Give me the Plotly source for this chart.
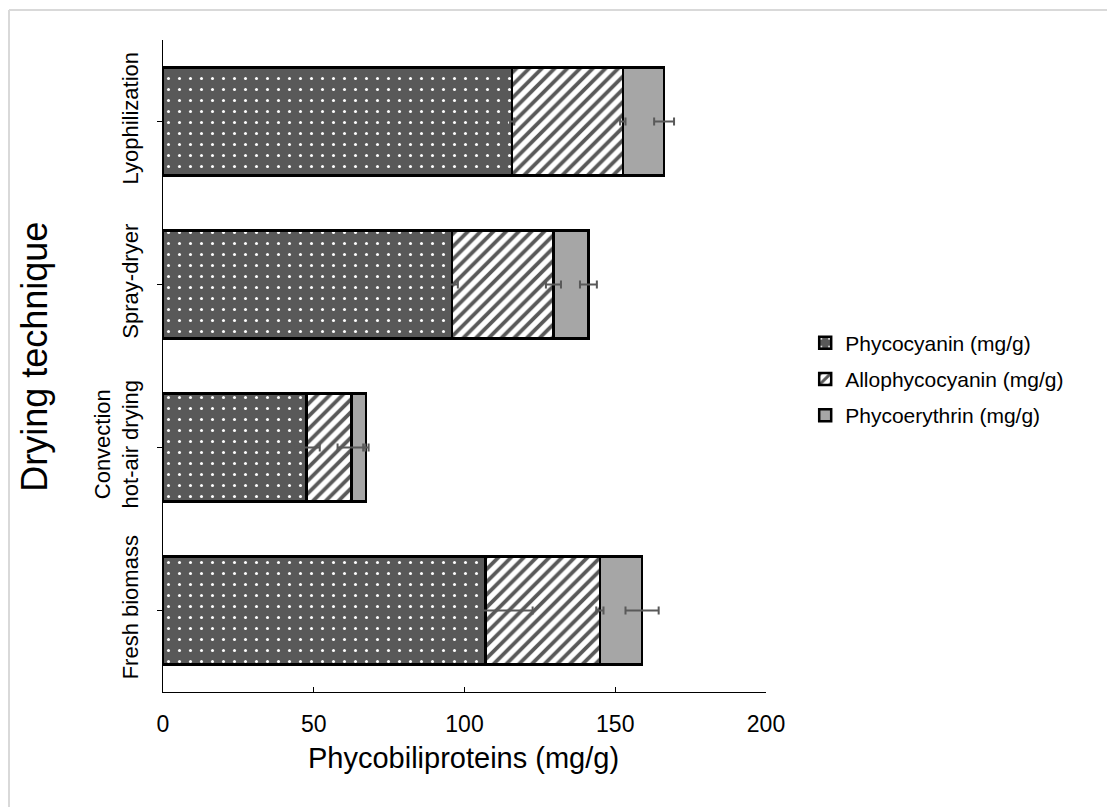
import plotly.graph_objects as go
import numpy as np

categories = ["Fresh biomass", "Convection<br>hot-air drying", "Spray-dryer", "Lyophilization"]
series_names = ["Phycocyanin (mg/g)", "Allophycocyanin (mg/g)", "Phycoerythrin (mg/g)"]
phycocyanin = [107.0, 47.6, 95.8, 115.8]
allophycocyanin = [37.9, 14.9, 33.7, 36.7]
phycoerythrin = [14.0, 4.8, 11.6, 13.7]
err_phycocyanin = [15.6, 4.4, 2.0, 0.7]
err_allophycocyanin = [1.2, 4.6, 2.5, 0.9]
err_phycoerythrin = [5.5, 0.9, 2.8, 3.3]
x_ticks = [0, 50, 100, 150, 200]
x_title = "Phycobiliproteins (mg/g)"
y_title = "Drying technique"

FONT = "Arial, Liberation Sans, sans-serif"
DARK = "#595959"

values = [phycocyanin, allophycocyanin, phycoerythrin]
errors = [err_phycocyanin, err_allophycocyanin, err_phycoerythrin]
patterns = [
    dict(shape=".", bgcolor=DARK, fgcolor="white", size=11, solidity=0.06, fillmode="replace"),
    dict(shape="/", bgcolor="white", fgcolor=DARK, size=9, solidity=0.42, fillmode="replace"),
    dict(shape="", bgcolor="#a6a6a6", fgcolor="#a6a6a6"),
]
fills = [DARK, "white", "#a6a6a6"]

fig = go.Figure()
for i, (name, vals) in enumerate(zip(series_names, values)):
    fig.add_trace(go.Bar(
        x=vals, y=categories, orientation="h", name=name,
        legendgroup=name,
        marker=dict(color=fills[i], pattern=patterns[i], line=dict(color="black", width=2.5)),
    ))

cum = np.cumsum(np.array(values), axis=0)
for i in range(3):
    fig.add_trace(go.Scatter(
        x=list(cum[i]), y=categories, mode="markers",
        marker=dict(size=1, opacity=0), showlegend=False, hoverinfo="skip",
        error_x=dict(type="data", array=errors[i], color=DARK, thickness=2, width=4),
    ))

fig.update_layout(
    barmode="stack", bargap=0.34,
    width=1107, height=799,
    margin=dict(l=155, r=349, t=32, b=115),
    paper_bgcolor="white", plot_bgcolor="white",
    font=dict(family=FONT, color="black", size=21),
    legend=dict(x=1.065, y=0.48, xanchor="left", yanchor="middle",
                font=dict(size=21), traceorder="grouped", tracegroupgap=6),
    xaxis=dict(range=[0, 200], tickvals=x_ticks, ticks="inside", ticklen=5,
               tickcolor="black", showline=True, linecolor="black", linewidth=1,
               showgrid=False, zeroline=False, ticklabelstandoff=11,
               tickfont=dict(size=23)),
    yaxis=dict(type="category", categoryorder="array", categoryarray=categories,
               range=[-0.5, 3.5], ticks="outside", ticklen=5, tickcolor="black",
               showline=True, linecolor="black", linewidth=1, showgrid=False,
               tickangle=-90, ticklabelstandoff=10, tickfont=dict(size=22)),
    yaxis2=dict(overlaying="y", range=[-0.5, 3.5], tickvals=[-0.5, 0.5, 1.5, 2.5, 3.5],
                ticks="inside", ticklen=7, tickcolor="black", showticklabels=False,
                showline=False, showgrid=False, zeroline=False),
    annotations=[
        dict(text=x_title, xref="paper", yref="paper", x=0.499, y=-0.1005,
             xanchor="center", yanchor="middle", showarrow=False, font=dict(size=29)),
        dict(text=y_title, xref="paper", yref="paper", x=-0.2123, y=0.514,
             xanchor="center", yanchor="middle", textangle=-90, showarrow=False,
             font=dict(size=36)),
    ],
    shapes=[
        dict(type="line", xref="paper", yref="paper", x0=-0.2554, x1=1.7, y0=1.046, y1=1.046,
             line=dict(color="#d9d9d9", width=2)),
        dict(type="line", xref="paper", yref="paper", x0=-0.2554, x1=-0.2554, y0=1.046, y1=-0.3,
             line=dict(color="#d9d9d9", width=2)),
    ],
)

fig.write_html("out.html")
